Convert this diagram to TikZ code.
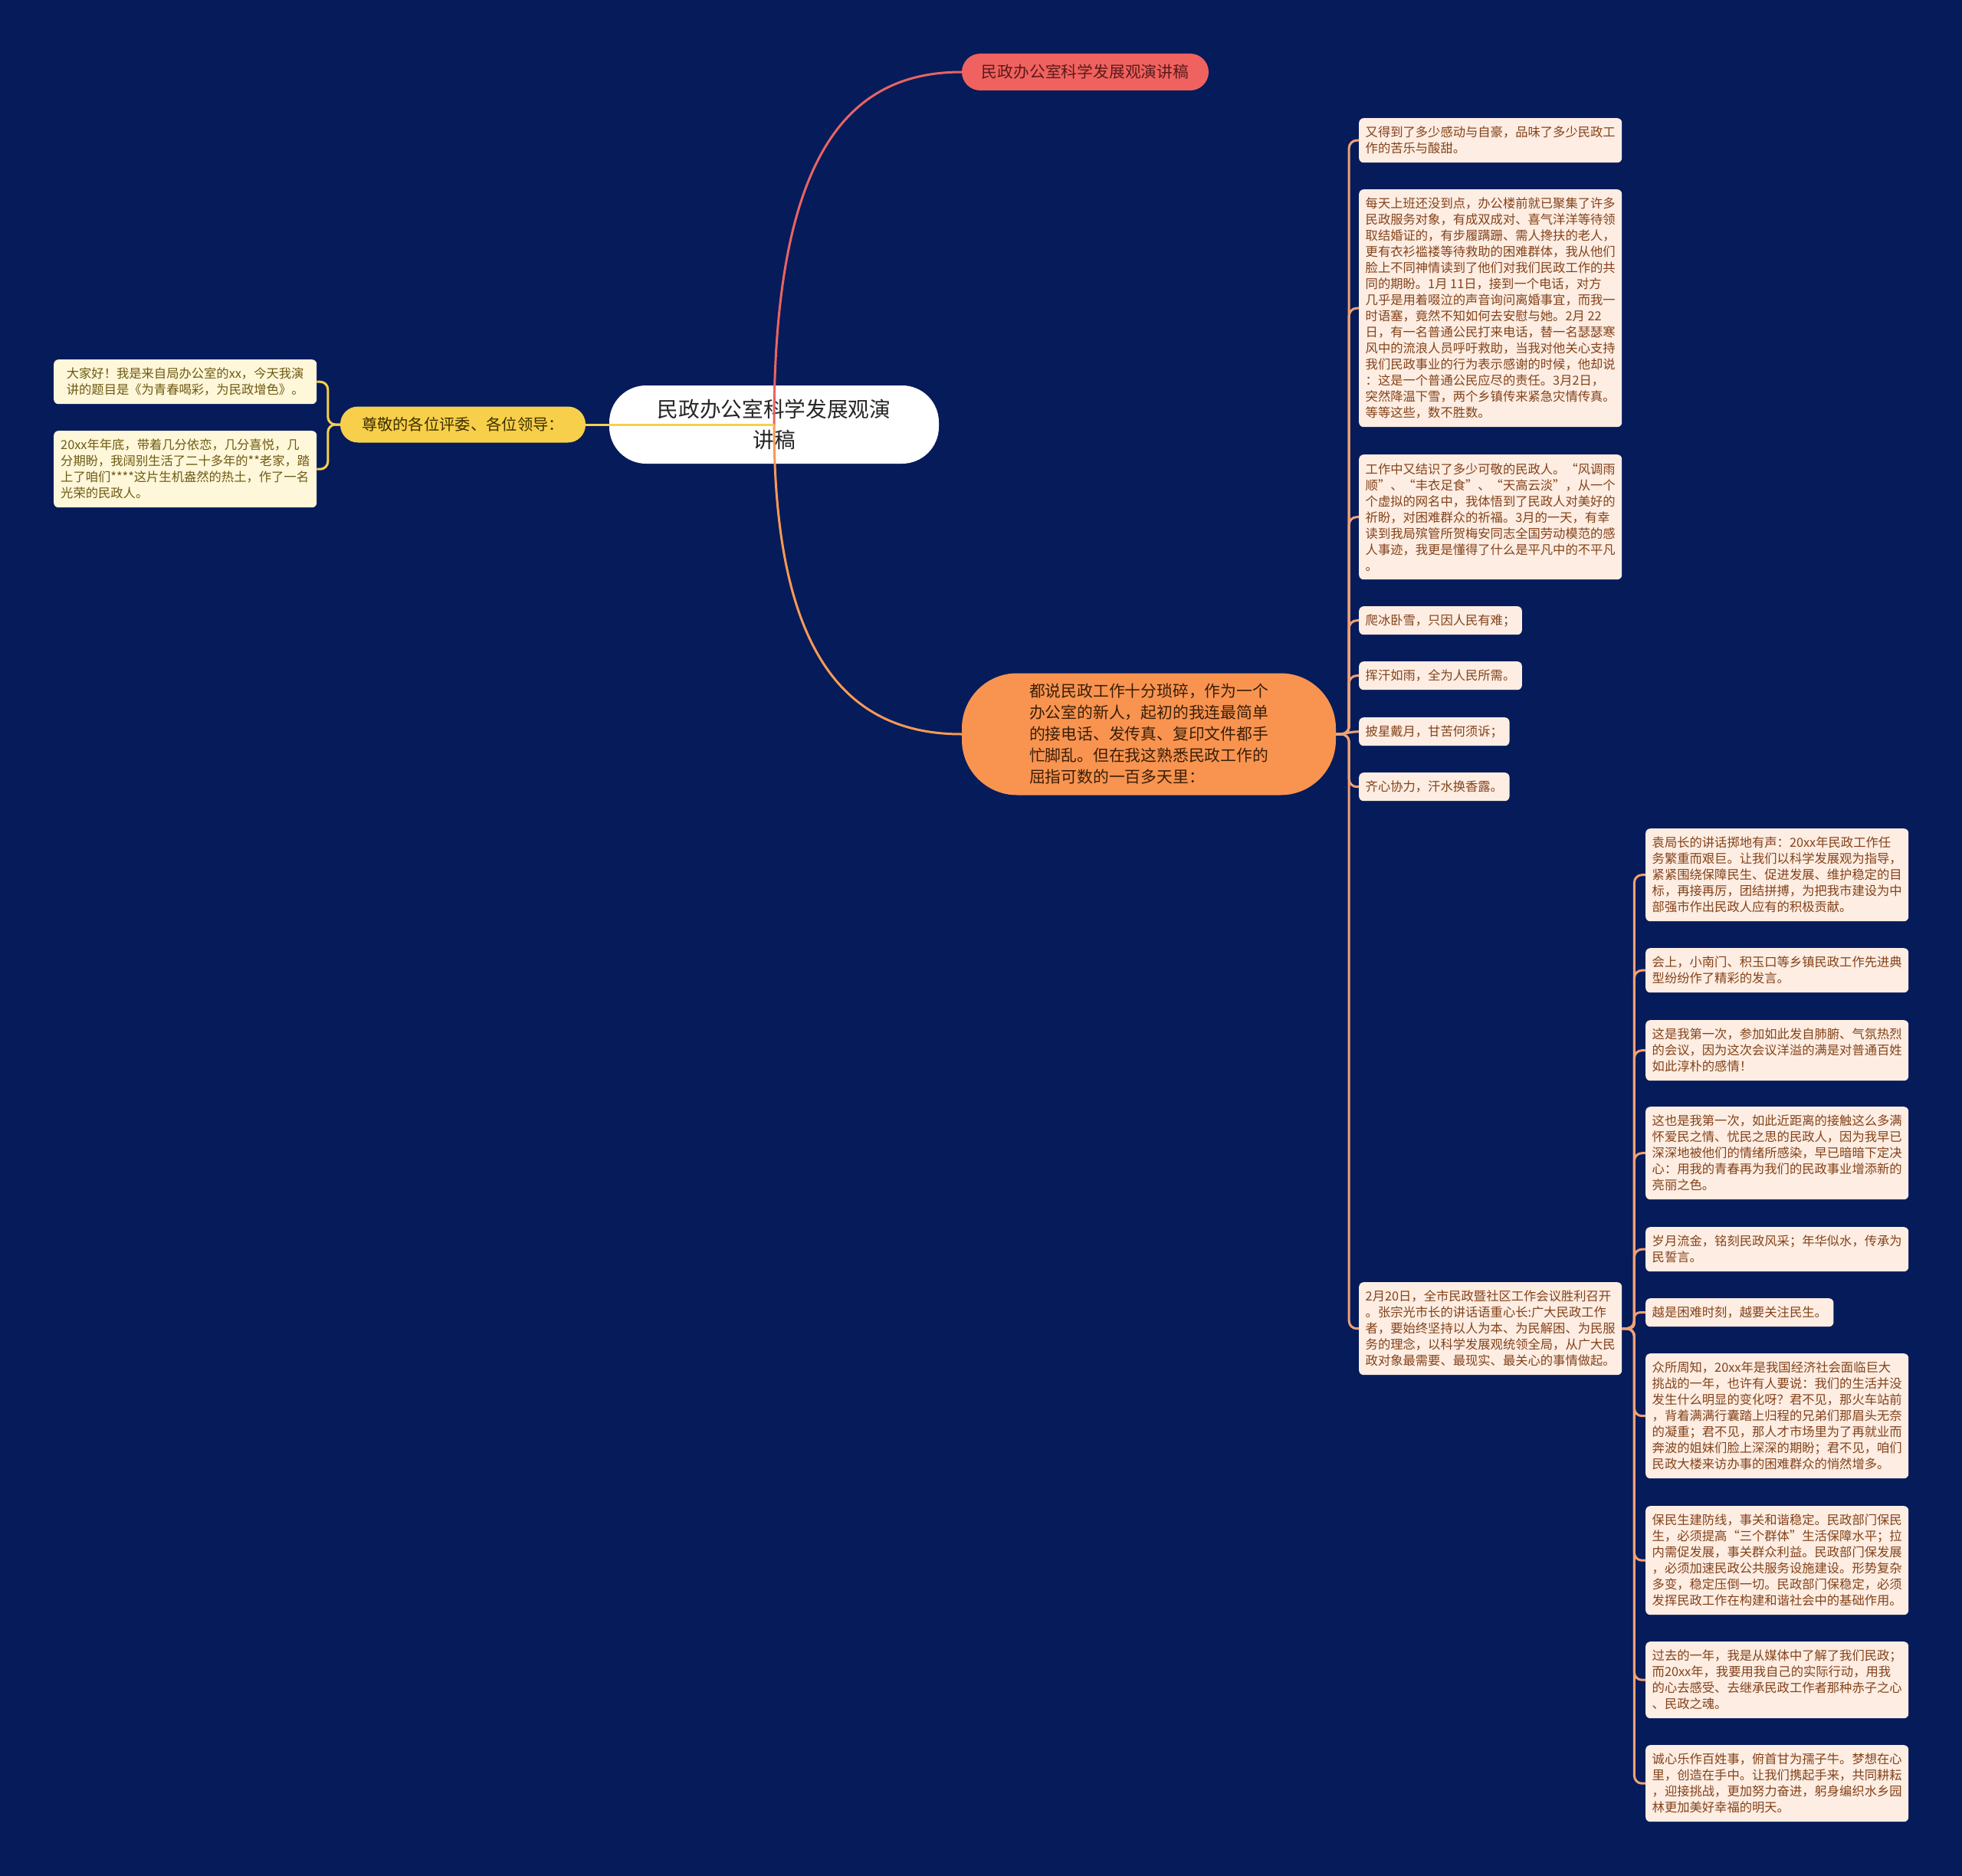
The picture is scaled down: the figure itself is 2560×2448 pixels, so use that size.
\documentclass[tikz,border=0pt]{standalone}
\usepackage{fontspec}
\setmainfont{Noto Sans CJK SC}
\usetikzlibrary{calc}
\definecolor{bgc}{HTML}{061B5A}
\definecolor{leafRfill}{HTML}{FDEDE2}
\definecolor{leafRtext}{HTML}{84421A}
\definecolor{leafLfill}{HTML}{FFF7DA}
\definecolor{leafLtext}{HTML}{6E5A12}
\definecolor{redfill}{HTML}{F0625F}
\definecolor{redtext}{HTML}{5B1A1A}
\definecolor{yelfill}{HTML}{F8CF4A}
\definecolor{yeltext}{HTML}{3B3000}
\definecolor{orafill}{HTML}{F89450}
\definecolor{oratext}{HTML}{3A1E08}
\definecolor{lineR}{HTML}{EFA275}
\definecolor{lineRed}{HTML}{E86464}
\definecolor{lineOra}{HTML}{F79A55}
\definecolor{lineYel}{HTML}{F5D04B}
\tikzset{
  leafbox/.style={rounded corners=6pt, inner xsep=8.5pt, inner ysep=0pt, align=left, anchor=north west,
    font=\fontsize{16.3pt}{21pt}\selectfont},
  leafR/.style={leafbox, fill=leafRfill, text=leafRtext},
  leafL/.style={leafbox, fill=leafLfill, text=leafLtext},
  full/.style={minimum width=343pt},
  h1/.style={minimum height=37pt}, h2/.style={minimum height=58pt}, h3/.style={minimum height=79pt},
  h4/.style={minimum height=100pt}, h5/.style={minimum height=121pt}, h6/.style={minimum height=142pt},
  h7/.style={minimum height=163pt}, h14/.style={minimum height=310pt},
  connR/.style={draw=lineR, line width=3pt, rounded corners=10pt},
  connL/.style={draw=lineYel, line width=3pt, rounded corners=10pt},
}
\begin{document}
\begin{tikzpicture}[x=1pt,y=-1pt]
\useasboundingbox (0,0) rectangle (2560,2448);
\fill[bgc] (0,0) rectangle (2560,2448);

% root
\node[fill=white, text=black!85, rounded corners=48pt, minimum width=430pt, minimum height=102pt,
  inner sep=0pt, align=center, font=\fontsize{27.7pt}{40pt}\selectfont] (root) at (1010,554)
  {民政办公室科学发展观演\\讲稿};

% first level
\node[fill=redfill, text=redtext, rounded corners=24pt, minimum width=322pt, minimum height=48pt,
  inner sep=0pt, font=\fontsize{20.8pt}{25pt}\selectfont] (top) at (1416,94) {民政办公室科学发展观演讲稿};
\node[fill=yelfill, text=yeltext, rounded corners=23pt, minimum width=320pt, minimum height=47pt,
  inner sep=0pt, font=\fontsize{20.3pt}{25pt}\selectfont] (yel) at (604,554) {尊敬的各位评委、各位领导：};
\node[fill=orafill, text=oratext, rounded corners=72pt, minimum width=488pt, minimum height=159pt,
  inner sep=0pt, align=left, font=\fontsize{20.8pt}{28pt}\selectfont] (ora) at (1499,958)
  {都说民政工作十分琐碎，作为一个\\办公室的新人，起初的我连最简单\\的接电话、发传真、复印文件都手\\忙脚乱。但在我这熟悉民政工作的\\屈指可数的一百多天里：};

% left leaves
\node[leafL, full, h2] (l1) at (70,469) {大家好！我是来自局办公室的xx，今天我演\\讲的题目是《为青春喝彩，为民政增色》。};
\node[leafL, full, h4] (l2) at (70,562) {20xx年年底，带着几分依恋，几分喜悦，几\\分期盼，我阔别生活了二十多年的**老家，踏\\上了咱们****这片生机盎然的热土，作了一名\\光荣的民政人。};

% column 1
\node[leafR, full, h2] (b1) at (1773,154) {又得到了多少感动与自豪，品味了多少民政工\\作的苦乐与酸甜。};
\node[leafR, full, h14] (b2) at (1773,247) {每天上班还没到点，办公楼前就已聚集了许多\\民政服务对象，有成双成对、喜气洋洋等待领\\取结婚证的，有步履蹒跚、需人搀扶的老人，\\更有衣衫褴褛等待救助的困难群体，我从他们\\脸上不同神情读到了他们对我们民政工作的共\\同的期盼。1月 11日，接到一个电话，对方\\几乎是用着啜泣的声音询问离婚事宜，而我一\\时语塞，竟然不知如何去安慰与她。2月 22\\日，有一名普通公民打来电话，替一名瑟瑟寒\\风中的流浪人员呼吁救助，当我对他关心支持\\我们民政事业的行为表示感谢的时候，他却说\\：这是一个普通公民应尽的责任。3月2日，\\突然降温下雪，两个乡镇传来紧急灾情传真。\\等等这些，数不胜数。};
\node[leafR, full, h7] (b3) at (1773,593) {工作中又结识了多少可敬的民政人。“风调雨\\顺”、“丰衣足食”、“天高云淡”，从一个\\个虚拟的网名中，我体悟到了民政人对美好的\\祈盼，对困难群众的祈福。3月的一天，有幸\\读到我局殡管所贺梅安同志全国劳动模范的感\\人事迹，我更是懂得了什么是平凡中的不平凡\\。};
\node[leafR, h1] (b4) at (1773,791) {爬冰卧雪，只因人民有难；};
\node[leafR, h1] (b5) at (1773,863) {挥汗如雨，全为人民所需。};
\node[leafR, h1] (b6) at (1773,936) {披星戴月，甘苦何须诉；};
\node[leafR, h1] (b7) at (1773,1008) {齐心协力，汗水换香露。};
\node[leafR, full, h5] (b8) at (1773,1673) {2月20日，全市民政暨社区工作会议胜利召开\\。张宗光市长的讲话语重心长:广大民政工作\\者，要始终坚持以人为本、为民解困、为民服\\务的理念，以科学发展观统领全局，从广大民\\政对象最需要、最现实、最关心的事情做起。};

% column 2
\node[leafR, full, h5] (c1) at (2147,1081) {袁局长的讲话掷地有声：20xx年民政工作任\\务繁重而艰巨。让我们以科学发展观为指导，\\紧紧围绕保障民生、促进发展、维护稳定的目\\标，再接再厉，团结拼搏，为把我市建设为中\\部强市作出民政人应有的积极贡献。};
\node[leafR, full, h2] (c2) at (2147,1237) {会上，小南门、积玉口等乡镇民政工作先进典\\型纷纷作了精彩的发言。};
\node[leafR, full, h3] (c3) at (2147,1331) {这是我第一次，参加如此发自肺腑、气氛热烈\\的会议，因为这次会议洋溢的满是对普通百姓\\如此淳朴的感情！};
\node[leafR, full, h5] (c4) at (2147,1444) {这也是我第一次，如此近距离的接触这么多满\\怀爱民之情、忧民之思的民政人，因为我早已\\深深地被他们的情绪所感染，早已暗暗下定决\\心：用我的青春再为我们的民政事业增添新的\\亮丽之色。};
\node[leafR, full, h2] (c5) at (2147,1601) {岁月流金，铭刻民政风采；年华似水，传承为\\民誓言。};
\node[leafR, h1] (c6) at (2147,1694) {越是困难时刻，越要关注民生。};
\node[leafR, full, h7] (c7) at (2147,1766) {众所周知，20xx年是我国经济社会面临巨大\\挑战的一年，也许有人要说：我们的生活并没\\发生什么明显的变化呀？君不见，那火车站前\\，背着满满行囊踏上归程的兄弟们那眉头无奈\\的凝重；君不见，那人才市场里为了再就业而\\奔波的姐妹们脸上深深的期盼；君不见，咱们\\民政大楼来访办事的困难群众的悄然增多。};
\node[leafR, full, h6] (c8) at (2147,1965) {保民生建防线，事关和谐稳定。民政部门保民\\生，必须提高“三个群体”生活保障水平；拉\\内需促发展，事关群众利益。民政部门保发展\\，必须加速民政公共服务设施建设。形势复杂\\多变，稳定压倒一切。民政部门保稳定，必须\\发挥民政工作在构建和谐社会中的基础作用。};
\node[leafR, full, h4] (c9) at (2147,2142) {过去的一年，我是从媒体中了解了我们民政；\\而20xx年，我要用我自己的实际行动，用我\\的心去感受、去继承民政工作者那种赤子之心\\、民政之魂。};
\node[leafR, full, h4] (c10) at (2147,2277) {诚心乐作百姓事，俯首甘为孺子牛。梦想在心\\里，创造在手中。让我们携起手来，共同耕耘\\，迎接挑战，更加努力奋进，躬身编织水乡园\\林更加美好幸福的明天。};

% root connectors
\draw[draw=lineRed, line width=3pt] (root.center) .. controls +(0,-350) and +(-150,0) .. (top.west);
\draw[draw=lineOra, line width=3pt] (root.center) .. controls +(0,300) and +(-150,0) .. (ora.west);
\draw[draw=lineYel, line width=3pt] (root.center) -- (yel.east);

% left connectors
\draw[connL] (yel.west) -- ++(-16,0) |- (l1.east);
\draw[connL] (yel.west) -- ++(-16,0) |- (l2.east);

% column 1 connectors
\foreach \n in {b1,b2,b3,b4,b5,b7,b8}
  \draw[connR] (ora.east) -- ++(17,0) |- (\n.west);
\draw[draw=lineR, line width=3pt] (ora.east) to[out=0,in=180] (b6.west);

% column 2 connectors
\foreach \n in {c1,c2,c3,c4,c5,c7,c8,c9,c10}
  \draw[connR] (b8.east) -- ++(16,0) |- (\n.west);
\draw[connR, rounded corners=7pt] (b8.east) -- ++(16,0) |- (c6.west);
\end{tikzpicture}
\end{document}
